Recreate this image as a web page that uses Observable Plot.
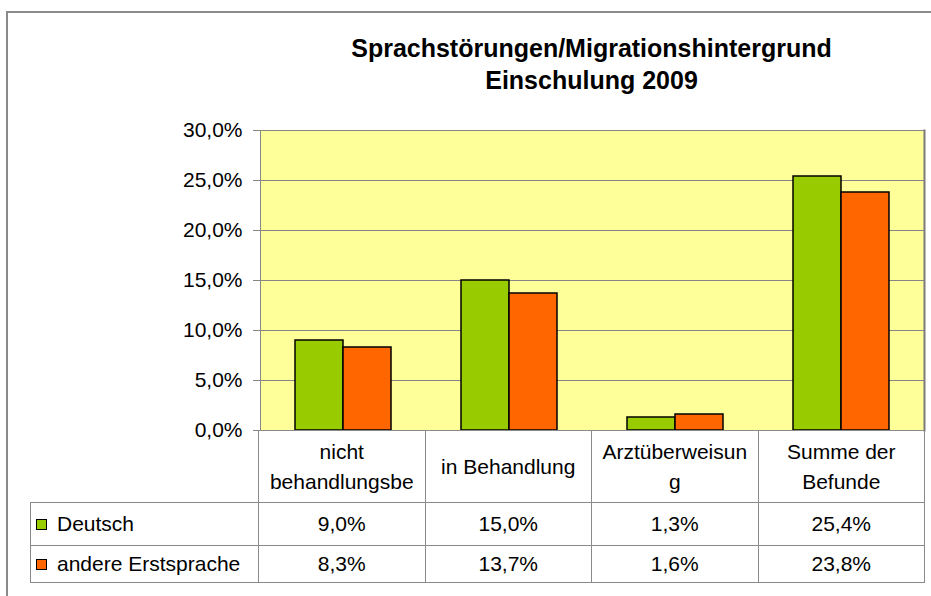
<!DOCTYPE html>
<html>
<head>
<meta charset="utf-8">
<script src="https://cdn.jsdelivr.net/npm/d3@7"></script>
<script src="https://cdn.jsdelivr.net/npm/@observablehq/plot@0.6"></script>
<style>
html, body { margin: 0; padding: 0; background: #fff; overflow: hidden; }
#wrap { position: relative; width: 931px; height: 596px; overflow: hidden; font-family: "Liberation Sans", Arial, sans-serif; color: #000; }
#border { position: absolute; left: 6px; top: 11px; width: 1000px; height: 700px; border-left: 2px solid #8a8a8a; border-top: 2px solid #8a8a8a; }
#title { position: absolute; left: 258px; width: 667px; top: 32px; text-align: center; font-weight: bold; font-size: 25px; line-height: 32px; }
#chart { position: absolute; left: 0; top: 100px; }
#table { position: absolute; left: 30px; top: 430px; width: 895px; border-collapse: collapse; table-layout: fixed; font-size: 21px; }
#table td { border: 1px solid #8a8a8a; padding: 0; text-align: center; vertical-align: middle; }
#table tr.head td { height: 71px; line-height: 30px; padding: 0 8px; overflow-wrap: anywhere; }
#table tr.head td.blank { border: none; }
#table tr.r1 td { height: 42px; }
#table tr.r2 td { height: 36px; }
#table td.name { text-align: left; padding-left: 5px; white-space: nowrap; }
.sw { display: inline-block; width: 9px; height: 9px; border: 1px solid #000; margin-right: 10px; vertical-align: 1px; }
</style>
</head>
<body>
<div id="wrap">
  <div id="border"></div>
  <div id="title"></div>
  <div id="chart"></div>
  <table id="table"></table>
</div>
<script>
// ---- data ----
const titleLines = ["Sprachstörungen/Migrationshintergrund", "Einschulung 2009"];
const categories = ["nicht behandlungsbe", "in Behandlung", "Arztüberweisung", "Summe der Befunde"];
const seriesNames = ["Deutsch", "andere Erstsprache"];
const deutschValues = [9.0, 15.0, 1.3, 25.4];
const andereValues = [8.3, 13.7, 1.6, 23.8];
const yTickValues = [0, 5, 10, 15, 20, 25, 30];
const seriesColors = ["#99CC00", "#FF6600"];

const seriesValues = [deutschValues, andereValues];
const rows = [];
categories.forEach((c, i) => {
  seriesNames.forEach((s, j) => rows.push({category: c, series: s, value: seriesValues[j][i]}));
});
const fmt = v => v.toFixed(1).replace(".", ",") + "%";

// ---- title ----
const titleEl = document.getElementById("title");
titleLines.forEach(t => { const d = document.createElement("div"); d.textContent = t; titleEl.appendChild(d); });

// ---- chart ----
const chart = Plot.plot({
  width: 931,
  height: 336,
  marginTop: 30,
  marginBottom: 6,
  marginLeft: 258,
  marginRight: 6,
  style: {fontFamily: "'Liberation Sans', Arial, sans-serif", fontSize: "21px", background: "transparent", overflow: "visible", color: "#000"},
  fx: {domain: categories, padding: 0, axis: null, label: null},
  x: {domain: seriesNames, paddingInner: 0, paddingOuter: 0.72, axis: null, label: null},
  y: {domain: [0, 30], label: null},
  color: {domain: seriesNames, range: seriesColors},
  marks: [
    Plot.frame({facet: "super", fill: "#FFFF99", stroke: "none"}),
    Plot.gridY(yTickValues, {stroke: "#868686", strokeOpacity: 1}),
    Plot.barY(rows, {fx: "category", x: "series", y: "value", fill: "series", stroke: "#000", strokeWidth: 1.5}),
    Plot.frame({facet: "super", stroke: "#868686"}),
    Plot.frame({facet: "super", anchor: "right", stroke: "#7a7a7a", strokeWidth: 2}),
    Plot.axisY(yTickValues, {tickSize: 7, tickPadding: 11, tickFormat: fmt, stroke: "#868686", fill: "#000", label: null, fontSize: 21})
  ]
});
document.getElementById("chart").appendChild(chart);

// ---- data table ----
const table = document.getElementById("table");
const colgroup = document.createElement("colgroup");
colgroup.innerHTML = '<col style="width:228px">' + categories.map(() => '<col>').join("");
table.appendChild(colgroup);
const head = document.createElement("tr");
head.className = "head";
head.innerHTML = '<td class="blank"></td>' + categories.map(c => `<td>${c}</td>`).join("");
table.appendChild(head);
seriesNames.forEach((s, j) => {
  const tr = document.createElement("tr");
  tr.className = "r" + (j + 1);
  tr.innerHTML = `<td class="name"><span class="sw" style="background:${seriesColors[j]}"></span>${s}</td>` +
    seriesValues[j].map(v => `<td>${fmt(v)}</td>`).join("");
  table.appendChild(tr);
});
</script>
</body>
</html>
